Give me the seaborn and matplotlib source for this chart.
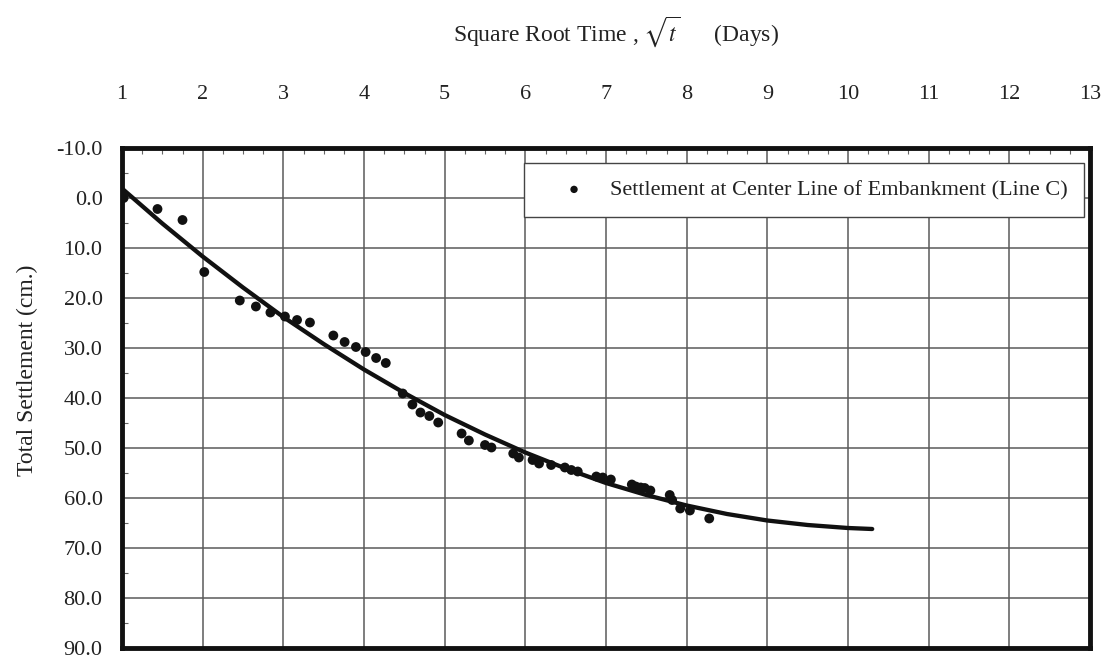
import numpy as np
import pandas as pd
import seaborn as sns
import matplotlib.pyplot as plt
from matplotlib.ticker import MultipleLocator

# ---- data ----
sqrt_t = [1.02, 1.44, 1.75, 2.02, 2.46, 2.66, 2.84, 3.02, 3.17, 3.33,
          3.62, 3.76, 3.90, 4.02, 4.15, 4.27, 4.48, 4.60, 4.70, 4.81,
          4.92, 5.21, 5.30, 5.50, 5.58, 5.85, 5.92, 6.09, 6.17, 6.32,
          6.49, 6.57, 6.65, 6.88, 6.96, 7.06, 7.32, 7.37, 7.43, 7.48,
          7.55, 7.79, 7.82, 7.92, 8.04, 8.28]
settlement = [0.0, 2.2, 4.4, 14.8, 20.5, 21.7, 22.9, 23.7, 24.4, 24.9,
              27.5, 28.8, 29.8, 30.8, 32.0, 33.0, 39.1, 41.3, 42.9, 43.6,
              44.9, 47.1, 48.5, 49.4, 49.9, 51.1, 51.9, 52.4, 53.1, 53.4,
              53.9, 54.4, 54.7, 55.7, 55.9, 56.3, 57.3, 57.7, 57.9, 58.0,
              58.5, 59.4, 60.4, 62.1, 62.5, 64.1]

# trend curve
curve_x = [1.0, 1.5, 2.0, 2.5, 3.0, 3.5, 4.0, 4.5, 5.0, 5.5, 6.0, 6.5,
           7.0, 7.5, 8.0, 8.5, 9.0, 9.5, 10.0, 10.3]
curve_y = [-1.9, 5.1, 11.7, 17.9, 23.8, 29.2, 34.3, 39.0, 43.4, 47.3, 50.9, 54.1,
           57.0, 59.4, 61.5, 63.2, 64.5, 65.4, 66.0, 66.2]

x_ticks = list(range(1, 14))
y_ticks = list(range(-10, 91, 10))
legend_label = "Settlement at Center Line of Embankment (Line C)"

# ---- style ----
sns.set_theme(style="white")
plt.rcParams["font.family"] = ["Liberation Serif", "DejaVu Serif"]
plt.rcParams["mathtext.fontset"] = "stix"

fig = plt.figure(figsize=(11.11, 6.62), dpi=100)
L, R, T, B = 122, 1090, 148, 648
ax = fig.add_axes([L / 1111, 1 - B / 662, (R - L) / 1111, (B - T) / 662])

df = pd.DataFrame({"x": sqrt_t, "y": settlement})
sns.lineplot(x=curve_x, y=curve_y, ax=ax, color="#111111", linewidth=3.1,
             sort=False, estimator=None, legend=False, zorder=3)
sns.scatterplot(data=df, x="x", y="y", ax=ax, color="#111111", s=50,
                edgecolor="none", label=legend_label, zorder=4)

ax.set_xlim(1, 13)
ax.set_ylim(90, -10)
ax.set_xticks(x_ticks)
ax.set_xticklabels([str(v) for v in x_ticks])
ax.set_yticks(y_ticks)
ax.set_yticklabels([f"{v:.1f}" for v in y_ticks])
ax.xaxis.tick_top()
ax.xaxis.set_label_position("top")
ax.xaxis.set_minor_locator(MultipleLocator(0.25))
ax.yaxis.set_minor_locator(MultipleLocator(5))

ax.tick_params(axis="x", which="major", top=True, bottom=False, length=0,
               pad=32, labelsize=16, labelcolor="#222222")
ax.tick_params(axis="x", which="minor", top=True, bottom=False, direction="in",
               length=4, width=0.8, color="#666666")
ax.tick_params(axis="y", which="major", left=True, length=0, pad=14,
               labelsize=16, labelcolor="#222222")
ax.tick_params(axis="y", which="minor", left=True, direction="in",
               length=4, width=0.8, color="#666666")

ax.grid(True, which="major", color="#5a5a5a", linewidth=1.1)
ax.set_axisbelow(True)
for sp in ax.spines.values():
    sp.set_visible(True)
    sp.set_linewidth(3.5)
    sp.set_color("#111111")

ax.set_xlabel(r"Square Root Time , $\sqrt{t}$      (Days)", fontsize=17, color="#222222")
ax.xaxis.set_label_coords((616 - L) / (R - L), 1 + (T - 32) / (B - T))
ax.xaxis.label.set_va("center")
ax.set_ylabel("Total Settlement (cm.)", fontsize=17, color="#222222")
ax.yaxis.set_label_coords((27 - L) / (R - L), 1 - (370 - T) / (B - T))
ax.yaxis.label.set_va("center")

leg = ax.legend(loc="upper right", bbox_to_anchor=((1084 - L) / (R - L), 1 - (163 - T) / (B - T)),
                borderaxespad=0.0, frameon=True,
                fancybox=False, edgecolor="#444444", fontsize=16, borderpad=0.75,
                handlelength=3.0, handletextpad=0.1, markerscale=0.75,
                framealpha=1.0)
leg.get_frame().set_linewidth(1.0)
for t in leg.get_texts():
    t.set_color("#222222")

fig.savefig("out.png", dpi=100)
